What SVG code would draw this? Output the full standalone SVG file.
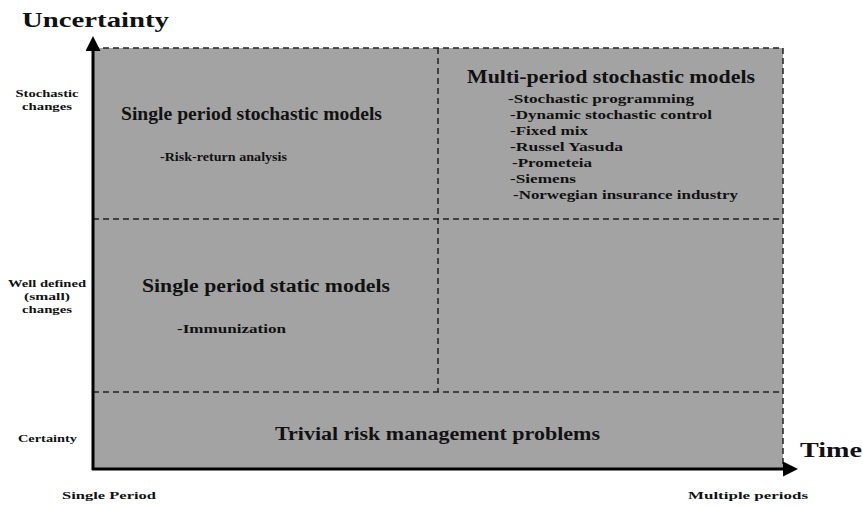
<svg xmlns="http://www.w3.org/2000/svg" width="863" height="506" viewBox="0 0 863 506">
<style>
text{font-family:"Liberation Serif","Times New Roman",serif;font-weight:bold;fill:#111}
.dash{stroke:#222;stroke-width:1.5;stroke-dasharray:6 4;fill:none}
.ax{stroke:#000;stroke-width:3;fill:none}
.t{font-size:18px}
.s{font-size:11px}
.l{font-size:13px}
</style>
<defs>
<marker id="ah" viewBox="0 0 10 10" refX="2" refY="5" markerWidth="5" markerHeight="5" orient="auto" markerUnits="strokeWidth">
<path d="M0,0 L10,5 L0,10 z" fill="#000"/>
</marker>
</defs>
<rect width="863" height="506" fill="#fff"/>
<rect x="93" y="48" width="690" height="421" fill="#a3a3a3"/>
<g id="cell-single-stochastic">
<text class="t" x="121" y="120" textLength="261" lengthAdjust="spacingAndGlyphs">Single period stochastic models</text>
<text class="l" x="160" y="161" textLength="127" lengthAdjust="spacingAndGlyphs">-Risk-return analysis</text>
</g>
<g id="cell-multi-stochastic">
<text class="t" x="467" y="83" textLength="288" lengthAdjust="spacingAndGlyphs">Multi-period stochastic models</text>
<text class="l" x="508" y="103" textLength="186" lengthAdjust="spacingAndGlyphs">-Stochastic programming</text>
<text class="l" x="510" y="119" textLength="202" lengthAdjust="spacingAndGlyphs">-Dynamic stochastic control</text>
<text class="l" x="510" y="135" textLength="78" lengthAdjust="spacingAndGlyphs">-Fixed mix</text>
<text class="l" x="510" y="151" textLength="113" lengthAdjust="spacingAndGlyphs">-Russel Yasuda</text>
<text class="l" x="512" y="167" textLength="80" lengthAdjust="spacingAndGlyphs">-Prometeia</text>
<text class="l" x="510" y="183" textLength="66" lengthAdjust="spacingAndGlyphs">-Siemens</text>
<text class="l" x="513" y="199" textLength="225" lengthAdjust="spacingAndGlyphs">-Norwegian insurance industry</text>
</g>
<g id="cell-single-static">
<text class="t" x="142" y="292" textLength="248" lengthAdjust="spacingAndGlyphs">Single period static models</text>
<text class="l" x="177" y="333" textLength="109" lengthAdjust="spacingAndGlyphs">-Immunization</text>
</g>
<g id="cell-trivial">
<text class="t" x="275" y="440" textLength="325" lengthAdjust="spacingAndGlyphs">Trivial risk management problems</text>
</g>
<g id="cell-multi-static"></g>
<g id="grid">
<path class="dash" d="M93,48 H783 V469"/>
<path class="dash" d="M93,219 H783"/>
<path class="dash" d="M93,392 H783"/>
<path class="dash" d="M438,48 V392"/>
</g>
<g id="connectors">
<line class="ax" x1="93" y1="470" x2="93" y2="48" marker-end="url(#ah)"/>
<line class="ax" x1="92" y1="469" x2="786" y2="469" marker-end="url(#ah)"/>
</g>
<g id="axis-labels">
<text x="22" y="27" font-size="22" textLength="147" lengthAdjust="spacingAndGlyphs">Uncertainty</text>
<text x="800" y="457" font-size="21" textLength="62" lengthAdjust="spacingAndGlyphs">Time</text>
<text class="s" x="47" y="97" text-anchor="middle" textLength="63" lengthAdjust="spacingAndGlyphs">Stochastic</text>
<text class="s" x="47" y="110" text-anchor="middle" textLength="50" lengthAdjust="spacingAndGlyphs">changes</text>
<text class="s" x="47" y="287" text-anchor="middle" textLength="78" lengthAdjust="spacingAndGlyphs">Well defined</text>
<text class="s" x="47" y="300" text-anchor="middle" textLength="46" lengthAdjust="spacingAndGlyphs">(small)</text>
<text class="s" x="47" y="313" text-anchor="middle" textLength="50" lengthAdjust="spacingAndGlyphs">changes</text>
<text class="s" x="18" y="442" textLength="59" lengthAdjust="spacingAndGlyphs">Certainty</text>
<text class="s" x="62" y="499" textLength="94" lengthAdjust="spacingAndGlyphs">Single Period</text>
<text class="s" x="688" y="499" textLength="120" lengthAdjust="spacingAndGlyphs">Multiple periods</text>
</g>
</svg>
